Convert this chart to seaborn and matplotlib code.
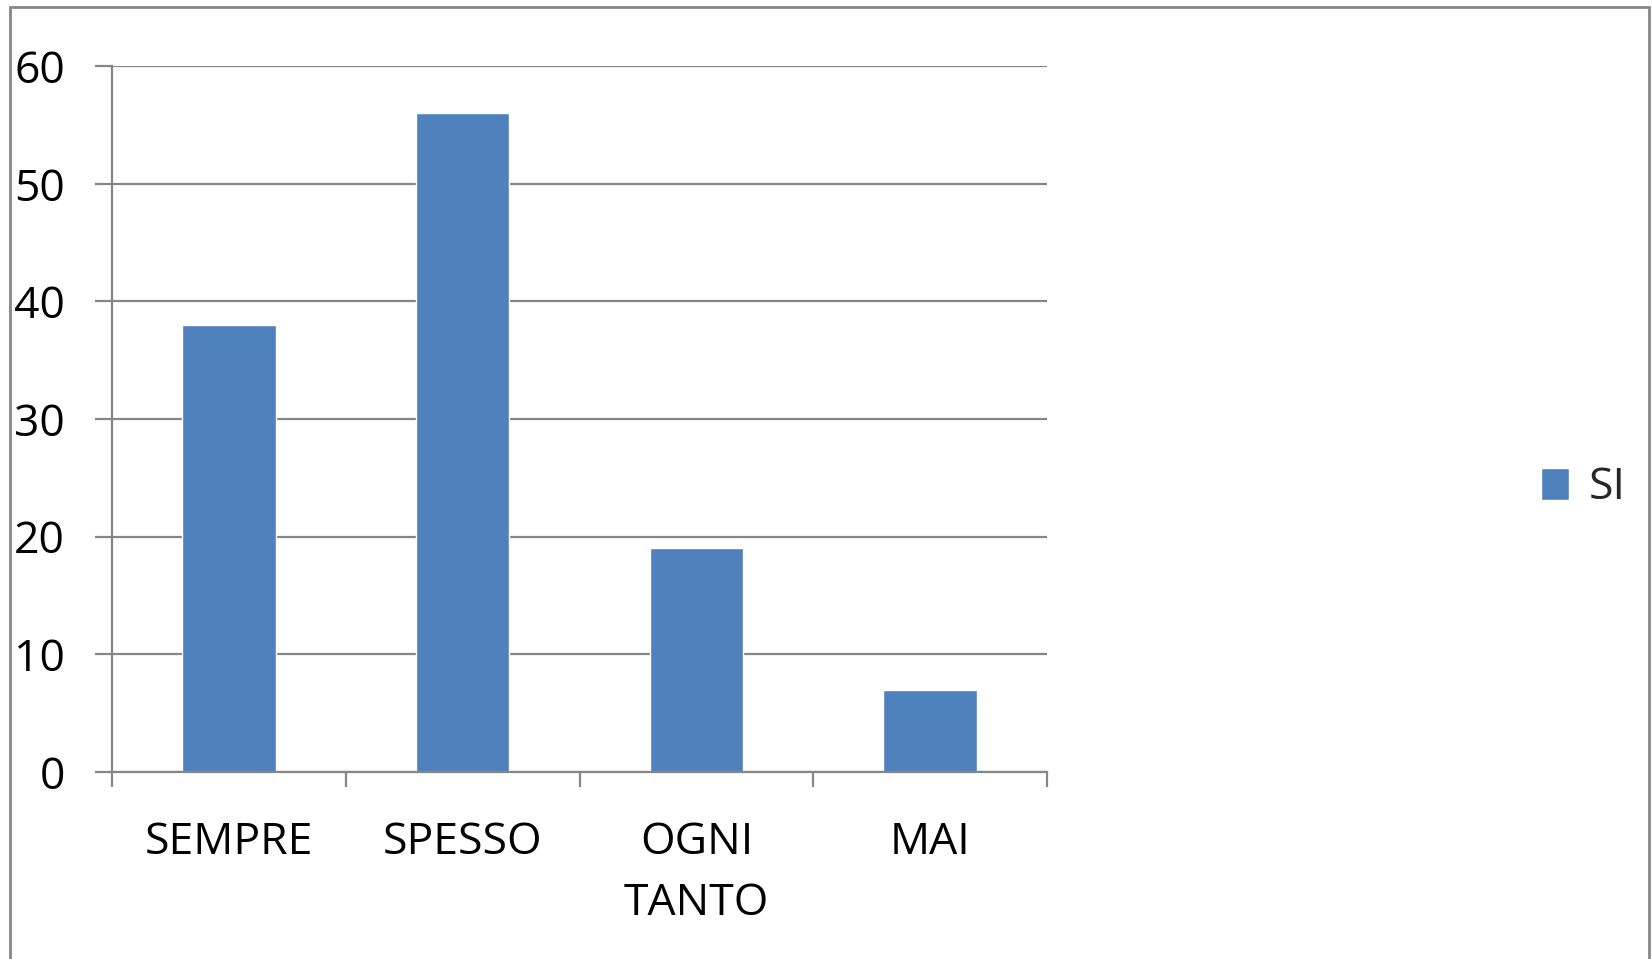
import pandas as pd
import seaborn as sns
import matplotlib.pyplot as plt
from matplotlib.patches import Rectangle
from matplotlib.ticker import FixedLocator

# data
categories = ["SEMPRE", "SPESSO", "OGNI\nTANTO", "MAI"]
values = [38, 56, 19, 7]
series_name = "SI"

data = pd.DataFrame({"categoria": categories, "valore": values, "serie": series_name})

sns.set_style("white")
plt.rcParams["font.family"] = ["Open Sans", "DejaVu Sans"]

fig = plt.figure(figsize=(16.52, 9.59), dpi=100)
ax = fig.add_axes([0.0678, 0.195, 0.566, 0.736])

grid_col = "#868686"

sns.barplot(data=data, x="categoria", y="valore", hue="serie",
            palette=["#4F81BD"], width=0.4, saturation=1, ax=ax)

ax.set_xlim(-0.5, 3.5)
ax.set_ylim(0, 60)
ax.set_yticks([0, 10, 20, 30, 40, 50, 60])
ax.yaxis.grid(True, color=grid_col, linewidth=1.6)
ax.set_axisbelow(True)
ax.set_xlabel("")
ax.set_ylabel("")

for side in ["top", "right"]:
    ax.spines[side].set_visible(False)
for side in ["left", "bottom"]:
    ax.spines[side].set_color(grid_col)
    ax.spines[side].set_linewidth(1.6)

# tick marks at category boundaries
ax.xaxis.set_minor_locator(FixedLocator([-0.5, 0.5, 1.5, 2.5, 3.5]))
ax.tick_params(axis="x", which="major", bottom=True, length=0, pad=35, labelsize=32)
ax.tick_params(axis="x", which="minor", bottom=True, length=11, width=1.6,
               color=grid_col, direction="out")
ax.tick_params(axis="y", which="major", left=True, length=12, width=1.6,
               color=grid_col, direction="out", pad=22, labelsize=32)
ax.tick_params(axis="both", labelcolor="black")
for lab in ax.get_xticklabels():
    lab.set_linespacing(1.5)

ax.legend(loc="center left", bbox_to_anchor=(0.933, 0.491), bbox_transform=fig.transFigure,
          frameon=False, fontsize=32, handlelength=0.62, handleheight=0.72,
          handletextpad=0.45, borderpad=0, borderaxespad=0)

# outer chart frame
fig.patches.append(Rectangle((10 / 1652, -0.05), (1649 - 10) / 1652, 1.05 - 7 / 959,
                             transform=fig.transFigure, fill=False,
                             edgecolor=grid_col, linewidth=2))

plt.savefig("out.png", dpi=100)
